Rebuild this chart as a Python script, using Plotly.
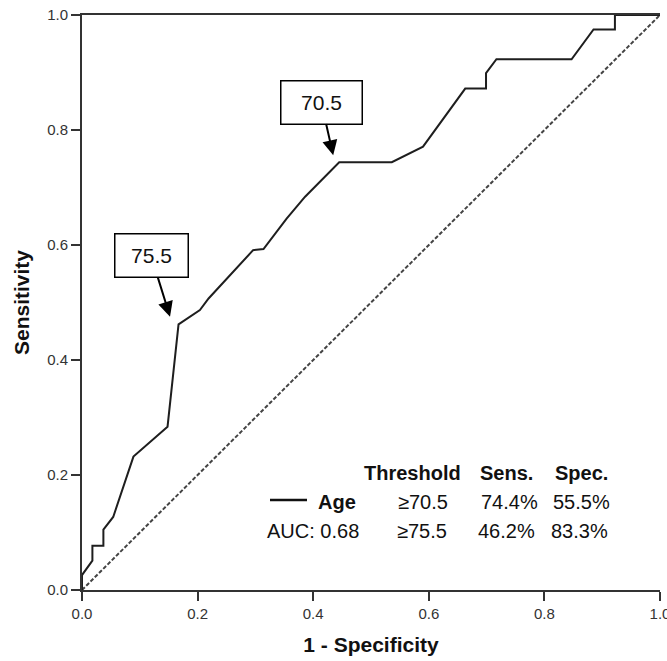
import plotly.graph_objects as go

# ROC curve for Age: false-positive rate (1 - specificity) vs sensitivity
fpr = [0.0, 0.0, 0.018, 0.018, 0.037, 0.037, 0.054, 0.089, 0.148, 0.167, 0.204,
       0.219, 0.296, 0.314, 0.354, 0.386, 0.445, 0.536, 0.590, 0.663, 0.699,
       0.699, 0.717, 0.847, 0.885, 0.922, 0.922, 1.0]
tpr = [0.0, 0.026, 0.051, 0.077, 0.077, 0.105, 0.127, 0.232, 0.284, 0.462, 0.487,
       0.507, 0.591, 0.593, 0.646, 0.684, 0.744, 0.744, 0.771, 0.872, 0.872,
       0.899, 0.923, 0.923, 0.975, 0.975, 1.0, 1.0]

# Chance line
ref_x = [0.0, 1.0]
ref_y = [0.0, 1.0]

# Cut-off points highlighted on the curve
cut_labels = ["70.5", "75.5"]
cut_fpr = [0.445, 0.167]
cut_tpr = [0.744, 0.462]

# Summary table
table_thresholds = ["\u226570.5", "\u226575.5"]
table_sens = ["74.4%", "46.2%"]
table_spec = ["55.5%", "83.3%"]
auc_value = 0.68

tick_vals = [0.0, 0.2, 0.4, 0.6, 0.8, 1.0]
tick_text = ["0.0", "0.2", "0.4", "0.6", "0.8", "1.0"]

W, H = 667, 661
ML, MR, MT, MB = 82, 7, 15, 71
PW, PH = W - ML - MR, H - MT - MB

def px(x):
    return (x - ML) / PW

def py(y):
    return (H - MB - y) / PH

AX = "#333333"
FONT = "Liberation Sans, Arial, sans-serif"
NARROW = "Liberation Sans Narrow, Arial Narrow, Liberation Sans, sans-serif"

fig = go.Figure()
fig.add_trace(go.Scatter(x=ref_x, y=ref_y, mode="lines",
                         line=dict(color="#444444", width=2, dash="4px,2px"),
                         showlegend=False, hoverinfo="skip"))
fig.add_trace(go.Scatter(x=fpr, y=tpr, mode="lines", name="Age",
                         line=dict(color="#1e1e1e", width=2),
                         showlegend=False))

annotations = []

# Boxed cut-off labels with arrows
box_style = [
    dict(xshift=-6, yshift=7, ax=-12, ay=-53, width=80),
    dict(xshift=-8.5, yshift=7.7, ax=-19, ay=-61, width=72),
]
for lab, xv, yv, st in zip(cut_labels, cut_fpr, cut_tpr, box_style):
    annotations.append(dict(
        x=xv, y=yv, xref="x", yref="y", text=lab, showarrow=True,
        ax=st["ax"], ay=st["ay"], xshift=st["xshift"], yshift=st["yshift"],
        arrowhead=2, arrowsize=1.5, arrowwidth=2, arrowcolor="#000000",
        bordercolor="#000000", borderwidth=1.5, borderpad=0, bgcolor="white",
        width=st["width"], height=42,
        font=dict(family=FONT, size=21, color="#111111")))

def txt(text, x, y, anchor="left", bold=False, size=20):
    annotations.append(dict(
        x=px(x), y=py(y), xref="paper", yref="paper",
        text=f"<b>{text}</b>" if bold else text, showarrow=False,
        xanchor=anchor, yanchor="middle",
        font=dict(family=NARROW, size=size, color="#111111")))

# Header row
txt("Threshold", 362, 473, bold=True)
txt("Sens.", 478, 473, bold=True)
txt("Spec.", 553, 473, bold=True)
# Row 1: Age
txt("Age", 316, 502, bold=True)
txt(table_thresholds[0], 396, 502)
txt(table_sens[0], 540, 502, anchor="right")
txt(table_spec[0], 612, 502, anchor="right")
# Row 2: AUC
txt(f"AUC: {auc_value:.2f}", 265, 531)
txt(table_thresholds[1], 395, 531)
txt(table_sens[1], 537, 531, anchor="right")
txt(table_spec[1], 610, 531, anchor="right")

# Legend line for Age
shapes = [dict(type="line", xref="paper", yref="paper",
               x0=px(270), x1=px(307), y0=py(500), y1=py(500),
               line=dict(color="#111111", width=2.5))]

axis_common = dict(
    range=[0, 1], tickvals=tick_vals, ticktext=tick_text,
    showline=True, linecolor=AX, linewidth=2,
    ticks="outside", ticklen=9, tickwidth=2, tickcolor=AX,
    showgrid=False, zeroline=False, ticklabeloverflow="allow",
    automargin=False,
    tickfont=dict(family=FONT, size=15, color="#333333"),
)

fig.update_layout(
    width=W, height=H,
    margin=dict(l=ML, r=MR, t=MT, b=MB),
    paper_bgcolor="white", plot_bgcolor="white",
    xaxis=dict(**axis_common, mirror=True,
               title=dict(text="<b>1 - Specificity</b>", standoff=16,
                          font=dict(family=FONT, size=21, color="#111111"))),
    yaxis=dict(**axis_common,
               title=dict(text="<b>Sensitivity</b>", standoff=12,
                          font=dict(family=FONT, size=21, color="#111111"))),
    annotations=annotations,
    shapes=shapes,
)

fig.write_html("out.html")
